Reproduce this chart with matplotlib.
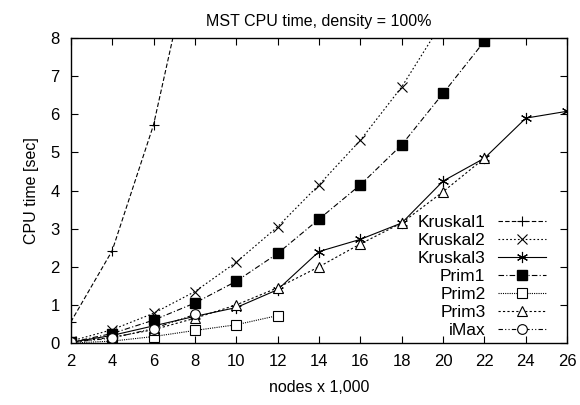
import matplotlib
matplotlib.use('Agg')
import matplotlib.pyplot as plt

plt.rcParams['font.family'] = ['Liberation Sans', 'DejaVu Sans']

nodes = [2, 4, 6, 8, 10, 12, 14, 16, 18, 20, 22, 24, 26]

kruskal1 = [0.55, 2.42, 5.72, 10.6]
kruskal2 = [0.05, 0.35, 0.78, 1.35, 2.12, 3.05, 4.15, 5.32, 6.72, 8.45]
kruskal3 = [0.02, 0.2, 0.45, 0.7, 0.93, 1.4, 2.4, 2.72, 3.15, 4.25, 4.85, 5.9, 6.08]
prim1 = [0.02, 0.25, 0.6, 1.05, 1.62, 2.35, 3.25, 4.15, 5.2, 6.55, 7.92]
prim2 = [0.0, 0.05, 0.17, 0.33, 0.48, 0.72]
prim3 = [0.02, 0.15, 0.35, 0.65, 1.0, 1.45, 2.0, 2.6, 3.15, 3.97, 4.85]
imax = [0.02, 0.13, 0.38, 0.75]

fig = plt.figure(figsize=(5.8, 4.05), dpi=100)
ax = fig.add_axes([0.122, 0.153, 0.856, 0.753])

lw = 0.8
ax.plot(nodes[:len(kruskal1)], kruskal1, color='black', lw=lw, ls=(0, (4, 2)),
        marker='+', ms=7, mew=0.8, label='Kruskal1')
ax.plot(nodes[:len(kruskal2)], kruskal2, color='black', lw=lw, ls=(0, (1.5, 2)),
        marker='x', ms=7, mew=0.8, label='Kruskal2')
ax.plot(nodes[:len(kruskal3)], kruskal3, color='black', lw=lw, ls='-',
        marker=(6, 2, 0), ms=8, mew=0.8, label='Kruskal3')
ax.plot(nodes[:len(prim1)], prim1, color='black', lw=lw, ls=(0, (5, 2, 1, 2)),
        marker='s', ms=7, label='Prim1')
ax.plot(nodes[:len(prim2)], prim2, color='black', lw=lw, ls=(0, (1, 1)),
        marker='s', ms=6.5, mfc='white', mew=0.8, label='Prim2')
ax.plot(nodes[:len(prim3)], prim3, color='black', lw=lw, ls=(0, (2, 2)),
        marker='^', ms=7, mfc='white', mew=0.8, label='Prim3')
ax.plot(nodes[:len(imax)], imax, color='black', lw=lw, ls=(0, (4, 2, 1, 2, 1, 2)),
        marker='o', ms=7, mfc='white', mew=0.8, label='iMax')

ax.set_xlim(2, 26)
ax.set_ylim(0, 8)
ax.set_xticks(nodes)
ax.set_yticks(range(0, 9))
ax.tick_params(direction='in', top=True, right=True, length=5, labelsize=12, pad=8)
for s in ax.spines.values():
    s.set_linewidth(1.0)

ax.set_title('MST CPU time, density = 100%', fontsize=11.5, pad=9)
ax.set_xlabel('nodes x 1,000', fontsize=11.5, labelpad=8)
ax.set_ylabel('CPU time [sec]', fontsize=11.5, labelpad=8)

ax.legend(loc='lower right', bbox_to_anchor=(0.975, -0.012), frameon=False,
          markerfirst=False, fontsize=12.5, handlelength=2.8, labelspacing=0.16,
          borderaxespad=0.1, handletextpad=0.7)

fig.savefig('out.png', dpi=100)
